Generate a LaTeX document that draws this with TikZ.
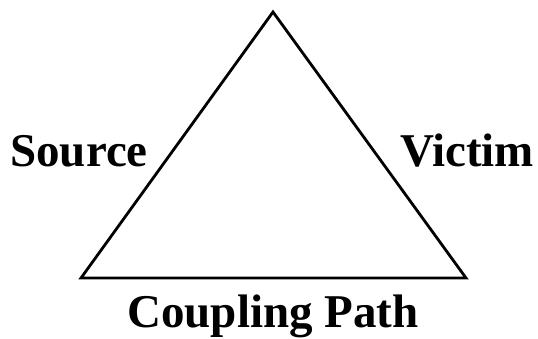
\documentclass[tikz,border=0pt]{standalone}
\usepackage{fontspec}
\setmainfont{Liberation Serif}
\begin{document}
\begin{tikzpicture}[x=1pt,y=1pt,
  lbl/.style={font=\fontsize{47}{50}\selectfont\bfseries, inner sep=0pt, anchor=base},
  edge/.style={line width=2.8pt, line join=miter}]
\useasboundingbox (0,0) rectangle (538,339);
\coordinate (top) at (273,327);
\coordinate (bl) at (81,61);
\coordinate (br) at (466,61);
\draw[edge] (top) -- (bl) -- (br) -- cycle;
\node[lbl] (src) at (79,172) {Source};
\node[lbl] (vic) at (467,172) {Victim};
\node[lbl] (cp) at (273,11) {Coupling Path};
\end{tikzpicture}
\end{document}
